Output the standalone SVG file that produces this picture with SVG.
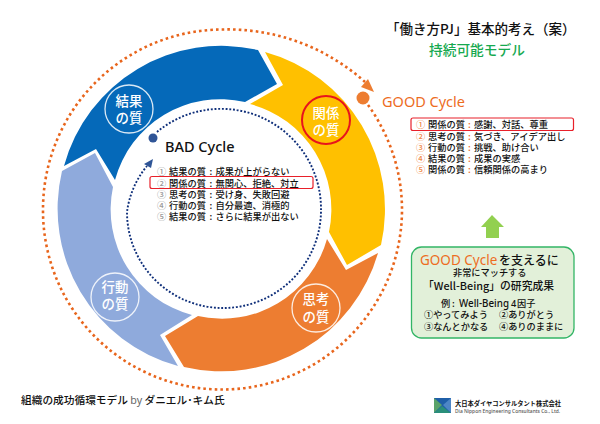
<svg xmlns="http://www.w3.org/2000/svg" width="600" height="424" viewBox="0 0 600 424">
<style>
text{font-family:"Noto Sans CJK JP","Noto Sans",sans-serif;font-weight:500;fill:#111}
.n{font-size:13.400px;fill:#fff;text-anchor:middle}
.l{font-size:9.250px}
.bn{fill:#9a9a9a}
.gn{fill:#ef8a4a}
.o{fill:#ed6d1f}
.la{font-family:"Noto Sans",sans-serif}
.c{fill:none;stroke:#fff;stroke-width:1.3;opacity:.85}
.rb{fill:none;stroke:#e8202a;stroke-width:1.2}
.b{font-size:9.200px}
</style>
<rect width="600" height="424" fill="#fff"/>
<g id="connectors">
<path d="M368,105A179 179 0 0 1 402,209A180 180 0 0 1 222,389.5A179 179 0 0 1 43,209A180 180 0 0 1 222,29.5A205 205 0 0 1 365,82" fill="none" stroke="#e8651c" stroke-width="2.6" stroke-dasharray="2.6 3.1"/>
<polygon points="368,79 374,92 361,87" fill="#ed7d31"/>
<circle cx="363" cy="98" r="6.5" fill="#ed7d31"/>
<path d="M157,132A100 100 0 0 1 321,209A98 98 0 0 1 223,308A96 96 0 0 1 127,212A90 90 0 0 1 147,166" fill="none" stroke="#0f2f7a" stroke-width="1.9" stroke-dasharray="1.9 1.8"/>
<polygon points="153,159 144,164 151,168" fill="#2f5597"/>
<circle cx="153" cy="138" r="4.5" fill="#2f5597"/>
</g>
<g id="node-kekka">
<path d="M64,166A163 163 0 0 1 258,50L277,84L245,102A109 109 0 0 0 115,180L96,149Z" fill="#0569b9"/>
<circle class="c" cx="129" cy="109" r="24"/>
<text class="n" x="129" y="106">結果</text><text class="n" x="129" y="123">の質</text>
</g>
<g id="node-kankei">
<path d="M265,52A163 163 0 0 1 381,245L347,265L329,232A109 109 0 0 0 250,104L283,85Z" fill="#ffc000"/>
<circle cx="326" cy="120" r="24" fill="none" stroke="#e8141c" stroke-width="2"/>
<text class="n" x="326" y="118">関係</text><text class="n" x="326" y="135">の質</text>
</g>
<g id="node-shiko">
<path d="M378,253A163 163 0 0 1 184,367L165,336L198,316A109 109 0 0 0 327,239L346,270Z" fill="#ed7d31"/>
<circle class="c" cx="316" cy="308" r="24"/>
<text class="n" x="316" y="304">思考</text><text class="n" x="316" y="322">の質</text>
</g>
<g id="node-kodo">
<path d="M178,366A163 163 0 0 1 62,171L95,153L113,187A109 109 0 0 0 192,315L160,335Z" fill="#8faadc"/>
<circle class="c" cx="115" cy="297" r="24"/>
<text class="n" x="115" y="292">行動</text><text class="n" x="115" y="309">の質</text>
</g>
<g id="bad-cycle">
<text class="la" x="165" y="152" font-size="14.500">BAD Cycle</text>
<rect class="rb" x="150" y="176.500" width="163" height="12" rx="2"/>
<text class="l" x="157" y="175"><tspan class="bn">①</tspan><tspan x="169">結果の質</tspan><tspan x="209.500">:</tspan><tspan x="215.500">成果が上がらない</tspan></text>
<text class="l" x="157" y="186.500"><tspan class="bn">②</tspan><tspan x="169">関係の質</tspan><tspan x="209.500">:</tspan><tspan x="215.500">無関心、拒絶、対立</tspan></text>
<text class="l" x="157" y="198"><tspan class="bn">③</tspan><tspan x="169">思考の質</tspan><tspan x="209.500">:</tspan><tspan x="215.500">受け身、失敗回避</tspan></text>
<text class="l" x="157" y="209"><tspan class="bn">④</tspan><tspan x="169">行動の質</tspan><tspan x="209.500">:</tspan><tspan x="215.500">自分最適、消極的</tspan></text>
<text class="l" x="157" y="220"><tspan class="bn">⑤</tspan><tspan x="169">結果の質</tspan><tspan x="209.500">:</tspan><tspan x="215.500">さらに結果が出ない</tspan></text>
</g>
<g id="title">
<text x="386" y="34" font-size="13.500">「働き方PJ」基本的考え&#xFF08;案&#xFF09;</text>
<text x="429" y="55" font-size="13.700" style="fill:#16a94f">持続可能モデル</text>
</g>
<g id="good-cycle">
<text class="o la" x="382" y="107" font-size="14.500" style="font-weight:400">GOOD Cycle</text>
<rect class="rb" x="411" y="118" width="162.500" height="12.500" rx="2"/>
<text class="l" x="416" y="128"><tspan class="gn">①</tspan><tspan x="428">関係の質</tspan><tspan class="o" x="468">:</tspan><tspan x="474">感謝、対話、尊重</tspan></text>
<text class="l" x="416" y="139.500"><tspan class="gn">②</tspan><tspan x="428">思考の質</tspan><tspan class="o" x="468">:</tspan><tspan x="474">気づき、アイデア出し</tspan></text>
<text class="l" x="416" y="150.500"><tspan class="gn">③</tspan><tspan x="428">行動の質</tspan><tspan class="o" x="468">:</tspan><tspan x="474">挑戦、助け合い</tspan></text>
<text class="l" x="416" y="161.500"><tspan class="gn">④</tspan><tspan x="428">結果の質</tspan><tspan class="o" x="468">:</tspan><tspan x="474">成果の実感</tspan></text>
<text class="l" x="416" y="173"><tspan class="gn">⑤</tspan><tspan x="428">関係の質</tspan><tspan class="o" x="468">:</tspan><tspan x="474">信頼関係の高まり</tspan></text>
</g>
<g id="support-arrow">
<polygon points="492,215 504,227 499,227 499,238 486,238 486,227 481,227" fill="#92d050"/>
</g>
<g id="well-being">
<rect x="411.500" y="247" width="162.500" height="91" rx="10" fill="#e2f0d9" stroke="#33b566" stroke-width="1.300"/>
<text x="420" y="265" font-size="12"><tspan class="o la" style="font-size:13.500px;font-weight:400">GOOD Cycle</tspan><tspan x="499">を支えるに</tspan></text>
<text x="453" y="276" class="b">非常にマッチする</text>
<text x="423" y="290" font-size="10.800">「Well-Being」の研究成果</text>
<text x="441" y="307" class="b">例<tspan x="452">:</tspan><tspan class="la" x="459" style="font-size:9.800px">Well-Being</tspan><tspan class="la" x="511">4</tspan><tspan x="517">因子</tspan></text>
<text x="424" y="318" class="b"><tspan>①やってみよう</tspan><tspan x="499">②ありがとう</tspan></text>
<text x="424" y="329.500" class="b"><tspan>③なんとかなる</tspan><tspan x="499">④ありのままに</tspan></text>
</g>
<g id="caption">
<text x="21" y="404" font-size="10.700">組織の成功循環モデル <tspan class="la" style="fill:#666;font-weight:400">by</tspan> ダニエル･キム氏</text>
</g>
<g id="logo">
<polygon points="434,398 451,398 451,413 434,413" fill="#1f5fa8"/>
<polygon points="434,398 442,405 434,413" fill="#5aa36a"/>
<polygon points="451,398 443,405 451,413" fill="#4d86c6"/>
<polygon points="434,413 442,406 451,413" fill="#2a8f7a"/>
<text x="455" y="406" style="font-size:6.250px;font-weight:700">大日本ダイヤコンサルタント株式会社</text>
<text x="455" y="412.500" style="font-size:4.900px;fill:#555;font-family:'Noto Sans',sans-serif">Dia Nippon Engineering Consultants Co., Ltd.</text>
</g>
</svg>
